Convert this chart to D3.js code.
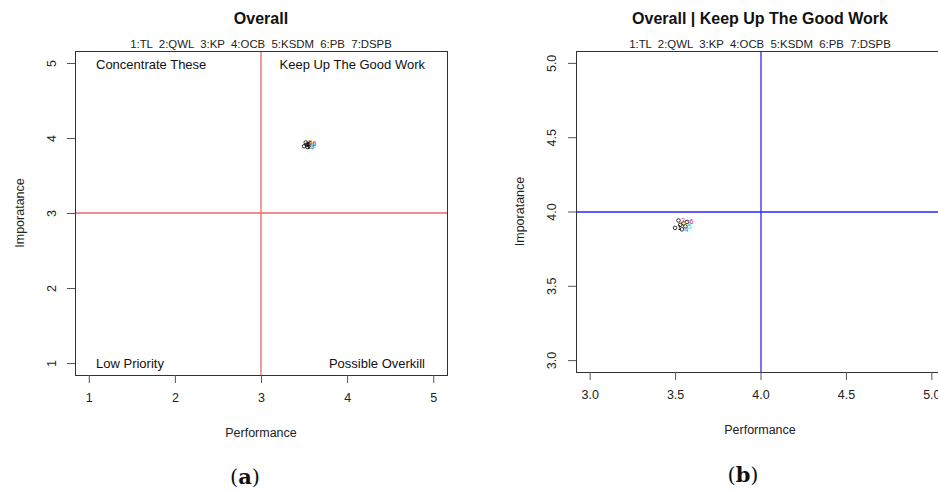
<!DOCTYPE html>
<html><head><meta charset="utf-8">
<script src="https://cdn.jsdelivr.net/npm/d3@7"></script>
<style>body{margin:0;background:#fff}svg{display:block}</style>
</head><body>
<script>
// data
const labels = ["1","2","3","4","5","6","7"];
const codes = ["1:TL","2:QWL","3:KP","4:OCB","5:KSDM","6:PB","7:DSPB"];
const performance = [3.50, 3.52, 3.55, 3.54, 3.56, 3.57, 3.53];
const importance = [3.89, 3.94, 3.92, 3.88, 3.90, 3.93, 3.91];
const ticksA = [1, 2, 3, 4, 5];
const ticksB = [3.0, 3.5, 4.0, 4.5, 5.0];
const quadrants = ["Concentrate These", "Keep Up The Good Work", "Low Priority", "Possible Overkill"];
const palette = ["#000000","#DF536B","#61D04F","#2297E6","#28E2E5","#CD0BBC","#F5C710"];

const W = 938, H = 492;
const svg = d3.select("body").append("svg").attr("width", W).attr("height", H);
const font = "'Liberation Sans', Arial, sans-serif";

function panel(o) {
  const g = svg.append("g");
  const x = d3.scaleLinear().domain(o.xd).range([o.left, o.right]);
  const y = d3.scaleLinear().domain(o.yd).range([o.bottom, o.top]);
  const rx = Math.round(x(o.ref)), ry = Math.round(y(o.ref));
  // reference lines
  g.append("line").attr("x1", rx).attr("x2", rx).attr("y1", o.top).attr("y2", o.bottom)
    .attr("stroke", o.refColor).attr("stroke-width", 1.3);
  g.append("line").attr("x1", o.left).attr("x2", o.right).attr("y1", ry).attr("y2", ry)
    .attr("stroke", o.refColor).attr("stroke-width", 1.3);
  // box
  g.append("rect").attr("x", o.left + 0.5).attr("y", o.top + 0.5).attr("width", o.right - o.left).attr("height", o.bottom - o.top)
    .attr("fill", "none").attr("stroke", "#333").attr("stroke-width", 1);
  // axes
  const xa = g.append("g").attr("transform", `translate(0,${o.bottom})`)
    .call(d3.axisBottom(x).tickValues(o.ticks).tickSize(8).tickPadding(10).tickFormat(o.fmt));
  xa.select(".domain").remove();
  xa.selectAll("line").attr("stroke", "#555");
  xa.selectAll("text").attr("font-family", font).attr("font-size", 12.5).attr("fill", "#222");
  const ya = g.append("g").attr("transform", `translate(${o.left},0)`)
    .call(d3.axisLeft(y).tickValues(o.ticks).tickSize(8).tickFormat(o.fmt));
  ya.select(".domain").remove();
  ya.selectAll("line").attr("stroke", "#555");
  ya.selectAll("text").attr("font-family", font).attr("font-size", 12.5).attr("fill", "#222")
    .attr("x", null).attr("dy", null)
    .attr("text-anchor", "middle")
    .attr("transform", `translate(${o.ylabX - o.left},0) rotate(-90)`)
    .attr("dy", "0.35em");
  // titles
  g.append("text").attr("x", o.cx).attr("y", 24).attr("text-anchor", "middle")
    .attr("font-family", font).attr("font-weight", "bold").attr("font-size", 16).attr("fill", "#111").text(o.title);
  g.append("text").attr("x", o.cx).attr("y", 48).attr("text-anchor", "middle")
    .attr("font-family", font).attr("font-size", 11.4).attr("fill", "#222")
    .attr("xml:space", "preserve").text(codes.join("  "));
  g.append("text").attr("x", o.cx).attr("y", o.xTitleY).attr("text-anchor", "middle")
    .attr("font-family", font).attr("font-size", 12.5).attr("fill", "#222").text("Performance");
  g.append("text").attr("transform", `translate(${o.yTitleX},${(o.top + o.bottom) / 2}) rotate(-90)`)
    .attr("text-anchor", "middle").attr("font-family", font).attr("font-size", 12.5).attr("fill", "#222").text("Imporatance");
  const cap = g.append("text").attr("x", o.capX).attr("y", o.capY).attr("text-anchor", "middle")
    .attr("font-family", "'DejaVu Serif', 'Liberation Serif', serif").attr("font-size", 21).attr("fill", "#111");
  cap.append("tspan").text("(");
  cap.append("tspan").attr("font-weight", "bold").text(o.cap);
  cap.append("tspan").text(")");
  // quadrant labels
  if (o.quad) {
    const q = [[o.left + 21, o.top + 18, "start"], [o.right - 22, o.top + 18, "end"],
               [o.left + 21, o.bottom - 7, "start"], [o.right - 22, o.bottom - 7, "end"]];
    q.forEach((d, i) => g.append("text").attr("x", d[0]).attr("y", d[1]).attr("text-anchor", d[2])
      .attr("font-family", font).attr("font-size", 13).attr("fill", "#111").text(quadrants[i]));
  }
  // points
  const pts = g.append("g");
  performance.forEach((p, i) => {
    pts.append("circle").attr("cx", x(p)).attr("cy", y(importance[i])).attr("r", 1.8)
      .attr("fill", "none").attr("stroke", "#000").attr("stroke-width", 0.8);
  });
  performance.forEach((p, i) => {
    pts.append("text").attr("x", x(p) + 2.5).attr("y", y(importance[i]) + 2.5)
      .attr("font-family", font).attr("font-size", 7).attr("fill", palette[i]).text(labels[i]);
  });
}

panel({xd: [0.84, 5.16], yd: [0.84, 5.16], left: 75, right: 447, top: 51, bottom: 375,
  ticks: ticksA, fmt: d3.format("d"), ref: 3, refColor: "#EE6666", title: "Overall", cx: 261,
  ylabX: 52, yTitleX: 24, xTitleY: 437, capX: 245, capY: 484, cap: "a", quad: true});
panel({xd: [2.92, 5.08], yd: [2.92, 5.08], left: 576, right: 945, top: 51, bottom: 372,
  ticks: ticksB, fmt: d3.format(".1f"), ref: 4, refColor: "#2828FF", title: "Overall | Keep Up The Good Work", cx: 760,
  ylabX: 552, yTitleX: 524, xTitleY: 434, capX: 743, capY: 482, cap: "b", quad: false});
</script>
</body></html>
